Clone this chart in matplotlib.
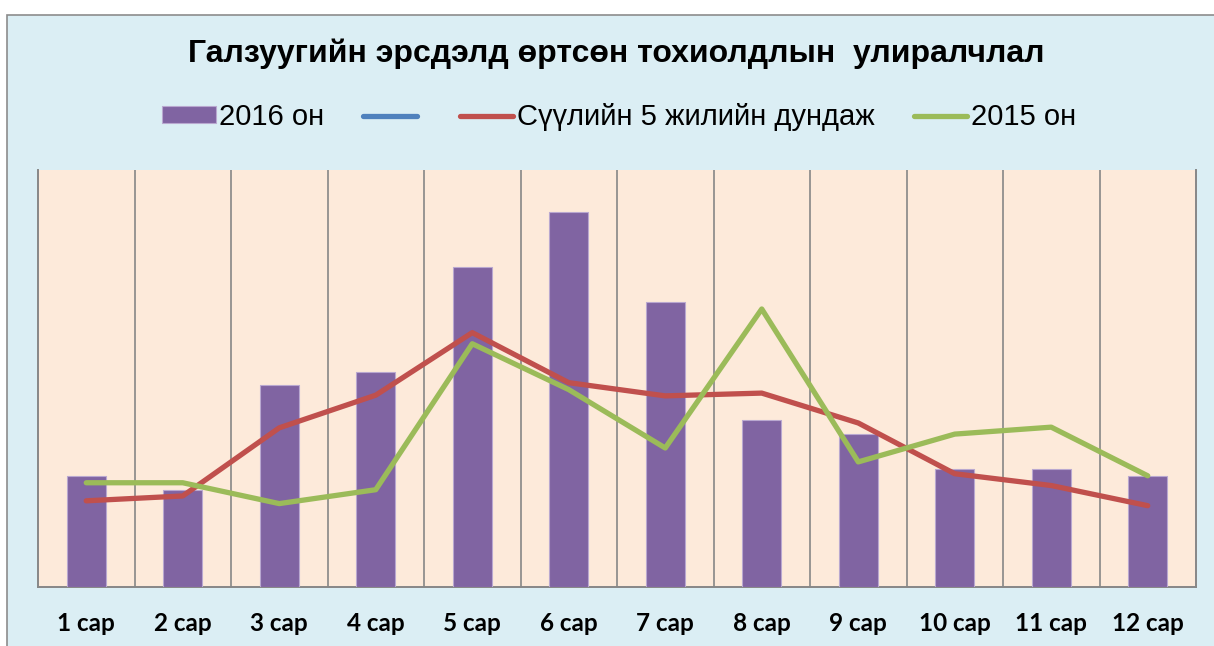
import numpy as np
import matplotlib.pyplot as plt
from matplotlib.patches import Rectangle

# data
months = ['1 сар', '2 сар', '3 сар', '4 сар', '5 сар', '6 сар',
          '7 сар', '8 сар', '9 сар', '10 сар', '11 сар', '12 сар']
cases_2016 = [16, 14, 29, 31, 46, 54, 41, 24, 22, 17, 17, 16]
avg_5yr = [12.4, 13.1, 22.9, 27.6, 36.6, 29.4, 27.5, 27.9, 23.6, 16.3, 14.6, 11.7]
cases_2015 = [15, 15, 12, 14, 35, 28.4, 20, 40, 18, 22, 23, 16]
empty_series = [np.nan] * 12

title = 'Галзуугийн эрсдэлд өртсөн тохиолдлын  улиралчлал'

W, H = 1214, 646
fig = plt.figure(figsize=(W / 100, H / 100), dpi=100)
fig.patch.set_facecolor('white')

# chart area box (cut off at right/bottom like the screenshot)
fig.patches.append(Rectangle((7 / W, -0.1), 1.2, 1 - 15 / H + 0.1,
                             transform=fig.transFigure, facecolor='#DBEEF4',
                             edgecolor='#8C8C8C', linewidth=1.2, zorder=-10))

ax = fig.add_axes([38 / W, 1 - 587 / H, (1196 - 38) / W, (587 - 170) / H])
ax.set_zorder(2)
ax.set_facecolor('#FDEADA')

x = np.arange(1, 13)
bars = ax.bar(x, cases_2016, width=0.4, color='#8064A2', edgecolor='#B9A8D0',
              linewidth=0.8, zorder=3)
blue, = ax.plot(x, empty_series, color='#4F81BD', linewidth=3.8,
                solid_capstyle='round', zorder=4)
red, = ax.plot(x, avg_5yr, color='#C0504D', linewidth=3.8,
               solid_capstyle='round', zorder=4)
green, = ax.plot(x, cases_2015, color='#9BBB59', linewidth=3.8,
                 solid_capstyle='round', zorder=5)

ax.set_xlim(0.5, 12.5)
ax.set_ylim(0, 60)
for b in np.arange(1.5, 12.5, 1):
    ax.axvline(b, color='#878787', linewidth=1.2, zorder=1)

ax.set_yticks([])
ax.set_xticks(x)
ax.set_xticklabels(months, fontfamily='Lato', fontweight='bold', fontsize=17.5)
ax.tick_params(axis='x', length=0, pad=18)
for side in ['left', 'right', 'bottom']:
    ax.spines[side].set_color('#878787')
    ax.spines[side].set_linewidth(1.4)
ax.spines['top'].set_visible(False)

fig.text(616 / W, 1 - 54 / H, title, ha='center', va='center',
         fontfamily='Liberation Sans', fontweight='bold', fontsize=23)

fig.legend([bars, blue, red, green],
           ['2016 он', '', 'Сүүлийн 5 жилийн дундаж', '2015 он'],
           loc='center', bbox_to_anchor=(619 / W, 1 - 117 / H), ncol=4,
           frameon=False, prop={'family': 'Liberation Sans', 'size': 21},
           handlelength=1.85, handleheight=0.52, handletextpad=0.12,
           columnspacing=1.33)

fig.savefig('out.png', dpi=100)
